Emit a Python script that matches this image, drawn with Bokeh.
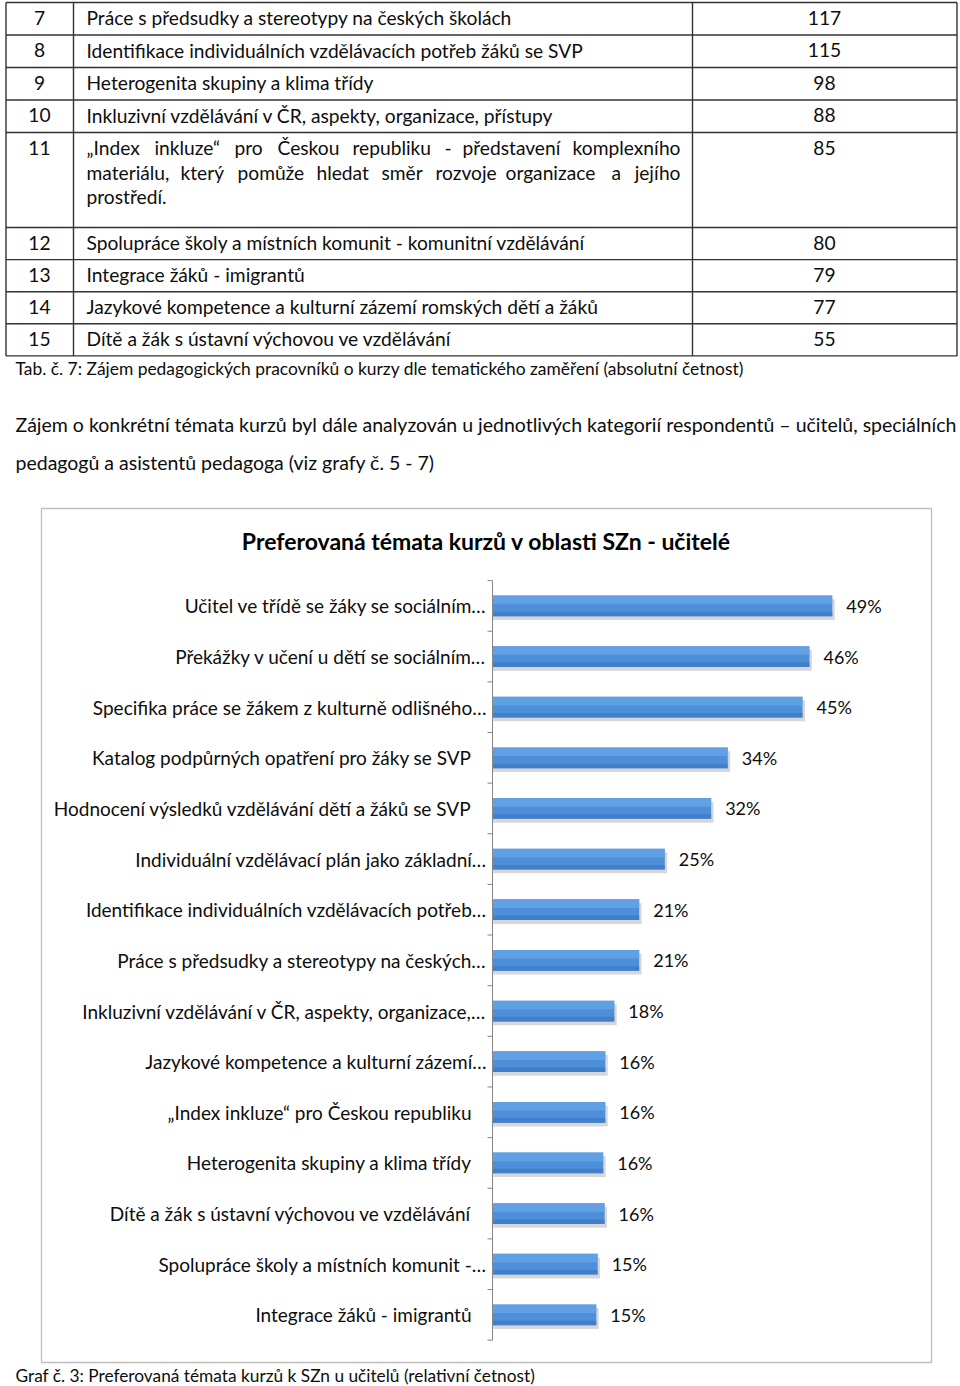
import textwrap
import numpy as np
from bokeh.plotting import figure
from bokeh.models import ColumnDataSource, Range1d
from bokeh.transform import dodge
from bokeh.core.properties import value
from bokeh.embed import file_html
from bokeh.resources import INLINE

# ---------------- data ----------------
row_numbers = [7, 8, 9, 10, 11, 12, 13, 14, 15]
row_topics = [
    "Práce s předsudky a stereotypy na českých školách",
    "Identifikace individuálních vzdělávacích potřeb žáků se SVP",
    "Heterogenita skupiny a klima třídy",
    "Inkluzivní vzdělávání v ČR, aspekty, organizace, přístupy",
    "„Index inkluze“ pro Českou republiku - představení komplexního materiálu, který pomůže hledat směr rozvoje organizace a jejího prostředí.",
    "Spolupráce školy a místních komunit - komunitní vzdělávání",
    "Integrace žáků - imigrantů",
    "Jazykové kompetence a kulturní zázemí romských dětí a žáků",
    "Dítě a žák s ústavní výchovou ve vzdělávání",
]
row_counts = [117, 115, 98, 88, 85, 80, 79, 77, 55]
table_caption = "Tab. č. 7: Zájem pedagogických pracovníků o kurzy dle tematického zaměření (absolutní četnost)"
paragraph_lines = [
    "Zájem o konkrétní témata kurzů byl dále analyzován u jednotlivých kategorií respondentů – učitelů, speciálních",
    "pedagogů a asistentů pedagoga (viz grafy č. 5 - 7)",
]

chart_title = "Preferovaná témata kurzů v oblasti SZn - učitelé"
categories = [
    "Učitel ve třídě se žáky se sociálním…",
    "Překážky v učení u dětí se sociálním…",
    "Specifika práce se žákem z kulturně odlišného…",
    "Katalog podpůrných opatření pro žáky se SVP",
    "Hodnocení výsledků vzdělávání dětí a žáků se SVP",
    "Individuální vzdělávací plán jako základní…",
    "Identifikace individuálních vzdělávacích potřeb…",
    "Práce s předsudky a stereotypy na českých…",
    "Inkluzivní vzdělávání v ČR, aspekty, organizace,…",
    "Jazykové kompetence a kulturní zázemí…",
    "„Index inkluze“ pro Českou republiku",
    "Heterogenita skupiny a klima třídy",
    "Dítě a žák s ústavní výchovou ve vzdělávání",
    "Spolupráce školy a místních komunit -…",
    "Integrace žáků - imigrantů",
]
percent = [49.1, 45.8, 44.8, 34.0, 31.6, 24.9, 21.2, 21.2, 17.6, 16.3, 16.3, 16.0, 16.2, 15.2, 15.0]
chart_caption = "Graf č. 3: Preferovaná témata kurzů k SZn u učitelů (relativní četnost)"

FONT = "Lato"
TXT = "#0d0d0d"
W, H = 960, 1386

# one canvas; default ranges are page pixels, extra ranges carry the chart scales
p = figure(width=W, height=H, x_range=Range1d(0, W), y_range=Range1d(H, 0),
           x_axis_type=None, y_axis_type=None, toolbar_location=None,
           output_backend="svg", min_border=0, outline_line_color=None)
p.background_fill_color = "white"
p.border_fill_color = "white"

# ---------------- table ----------------
col_x = [5.5, 73, 692, 956.5]
row_heights = [32.5, 32.5, 32.5, 32.5, 95, 32.1, 32.1, 32.1, 32.1]
row_tops = list(np.concatenate([[2.0], 2.0 + np.cumsum(row_heights)]))

p.segment(x0=[col_x[0]] * len(row_tops), x1=[col_x[-1]] * len(row_tops),
          y0=row_tops, y1=row_tops, line_color="#333333", line_width=1.4)
p.segment(x0=col_x, x1=col_x, y0=[row_tops[0]] * 4, y1=[row_tops[-1]] * 4,
          line_color="#333333", line_width=1.4)

TFS = "19.2px"
first_line_y = [t + 15.0 for t in row_tops[:-1]]
p.text(x=[39] * len(row_numbers), y=first_line_y, text=[str(n) for n in row_numbers],
       text_align="center", text_baseline="middle",
       text_font=value(FONT), text_font_size=TFS, text_color=TXT)
p.text(x=[824] * len(row_counts), y=first_line_y, text=[str(c) for c in row_counts],
       text_align="center", text_baseline="middle",
       text_font=value(FONT), text_font_size=TFS, text_color=TXT)

LINE_H = 24.5
TX0, TX1 = 86, 680
# word start positions for the justified lines of the wrapped cell (layout only)
JUSTIFY_STARTS = [
    [86, 154, 234, 277, 352, 444, 462, None],
    [86, 180, 237, 316, 381, 435, 505, 611, None],
]
plain_x, plain_y, plain_t = [], [], []
right_x, right_y, right_t = [], [], []
for topic, y0 in zip(row_topics, first_line_y):
    lines = textwrap.wrap(topic, 63)
    for k, line in enumerate(lines):
        yy = y0 + k * LINE_H
        words = line.split(" ")
        if len(lines) > 1 and k < len(lines) - 1 and k < len(JUSTIFY_STARTS) \
                and len(JUSTIFY_STARTS[k]) == len(words):
            for w, xs in zip(words, JUSTIFY_STARTS[k]):
                if xs is None:
                    right_x.append(TX1); right_y.append(yy); right_t.append(w)
                else:
                    plain_x.append(xs); plain_y.append(yy); plain_t.append(w)
        else:
            plain_x.append(TX0); plain_y.append(yy); plain_t.append(line)

p.text(x=plain_x, y=plain_y, text=plain_t, text_align="left", text_baseline="middle",
       text_font=value(FONT), text_font_size=TFS, text_color=TXT)
p.text(x=right_x, y=right_y, text=right_t, text_align="right", text_baseline="middle",
       text_font=value(FONT), text_font_size=TFS, text_color=TXT)

p.text(x=[15], y=[368], text=[table_caption], text_align="left", text_baseline="middle",
       text_font=value(FONT), text_font_size="17.4px", text_color=TXT)
p.text(x=[15, 15], y=[424, 462], text=paragraph_lines, text_align="left", text_baseline="middle",
       text_font=value(FONT), text_font_size="19.5px", text_color=TXT)

# ---------------- chart ----------------
n = len(categories)
src = ColumnDataSource(dict(
    idx=list(range(n)), pct=percent, cat=categories,
    lab=[f"{round(v)}%" for v in percent],
    off=[-6 if c.endswith("…") else -21 for c in categories],
))

ZERO_X, PX_PER_PCT = 492.0, 6.92      # page x of 0 %, pixels per percent
FIRST_Y, CAT_PX = 605.4, 50.64        # page y of first category, pixels per category
p.extra_x_ranges = {"pct": Range1d(-ZERO_X / PX_PER_PCT, (W - ZERO_X) / PX_PER_PCT)}
p.extra_y_ranges = {"cat": Range1d((H - FIRST_Y) / CAT_PX, -FIRST_Y / CAT_PX)}
C = dict(x_range_name="pct", y_range_name="cat")

# chart area border
p.quad(left=[41], right=[931], top=[508], bottom=[1362], fill_color=None,
       line_color="#BEBEBE", line_width=1.3)

# shadow
p.hbar(y=dodge("idx", 0.075), left=0, right=dodge("pct", 0.35), height=0.41, source=src,
       fill_color="#8c8c8c", fill_alpha=0.35, line_color=None, **C)
# bar body + gradient bands
p.hbar(y="idx", left=0, right="pct", height=0.41, source=src,
       fill_color="#4E8FDA", line_color=None, **C)
p.hbar(y=dodge("idx", -0.12), left=0, right="pct", height=0.17, source=src,
       fill_color="#69A6EA", fill_alpha=0.75, line_color=None, **C)
p.hbar(y=dodge("idx", 0.16), left=0, right="pct", height=0.09, source=src,
       fill_color="#3D7BC6", fill_alpha=0.8, line_color=None, **C)

# category axis line and ticks
p.segment(x0=[0], x1=[0], y0=[-0.5], y1=[n - 0.5], line_color="#868686", line_width=1, **C)
p.ray(x=[0] * (n + 1), y=list(np.arange(n + 1) - 0.5), length=5, length_units="screen",
      angle=np.pi, line_color="#868686", line_width=1, **C)

p.text(x=0, y="idx", text="cat", x_offset="off", source=src, text_align="right",
       text_baseline="middle", text_font=value(FONT), text_font_size="19px", text_color=TXT, **C)
p.text(x="pct", y="idx", text="lab", x_offset=14, source=src, text_align="left",
       text_baseline="middle", text_font=value(FONT), text_font_size="18px", text_color=TXT, **C)

p.text(x=[486], y=[540], text=[chart_title], text_align="center", text_baseline="middle",
       text_font=value(FONT), text_font_style="bold", text_font_size="23px", text_color="#000000")

# ---------------- caption ----------------
p.text(x=[15], y=[1375], text=[chart_caption], text_align="left", text_baseline="middle",
       text_font=value(FONT), text_font_size="17.3px", text_color=TXT)

open("out.html", "w").write(file_html(p, INLINE))
